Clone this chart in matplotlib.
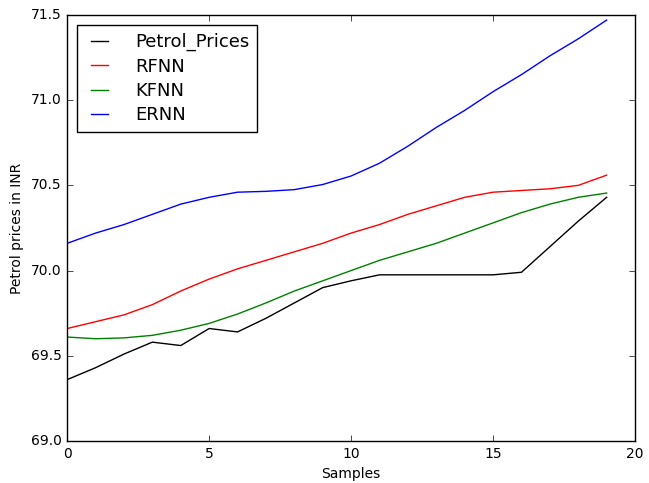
import matplotlib
matplotlib.use('Agg')
from matplotlib import pyplot as plt

plt.style.use('classic')

samples = list(range(20))
petrol_prices = [69.36, 69.43, 69.51, 69.58, 69.56, 69.66, 69.64, 69.72, 69.81, 69.90,
                 69.94, 69.975, 69.975, 69.975, 69.975, 69.975, 69.99, 70.14, 70.29, 70.43]
rfnn = [69.66, 69.70, 69.74, 69.80, 69.88, 69.95, 70.01, 70.06, 70.11, 70.16,
        70.22, 70.27, 70.33, 70.38, 70.43, 70.46, 70.47, 70.48, 70.50, 70.56]
kfnn = [69.61, 69.60, 69.605, 69.62, 69.65, 69.69, 69.745, 69.81, 69.88, 69.94,
        70.00, 70.06, 70.11, 70.16, 70.22, 70.28, 70.34, 70.39, 70.43, 70.455]
ernn = [70.16, 70.22, 70.27, 70.33, 70.39, 70.43, 70.46, 70.465, 70.475, 70.505,
        70.555, 70.63, 70.73, 70.84, 70.94, 71.05, 71.15, 71.26, 71.36, 71.47]

fig = plt.figure(figsize=(6.49, 4.83), dpi=100, facecolor='white')
ax = fig.add_axes([0.1035, 0.087, 0.875, 0.882])

ax.plot(samples, petrol_prices, color='k', label='Petrol_Prices')
ax.plot(samples, rfnn, color='r', label='RFNN')
ax.plot(samples, kfnn, color='g', label='KFNN')
ax.plot(samples, ernn, color='b', label='ERNN')

ax.set_xlim(0, 20)
ax.set_ylim(69.0, 71.5)
ax.set_xlabel('Samples', fontsize=10)
ax.set_ylabel('Petrol prices in INR', fontsize=10)
ax.tick_params(labelsize=10)
ax.legend(loc='upper left', fontsize=13, handlelength=1.55, handletextpad=1.2,
          borderpad=0.45, borderaxespad=0.55, labelspacing=0.35)

plt.savefig('out.png', dpi=100, facecolor='white')
